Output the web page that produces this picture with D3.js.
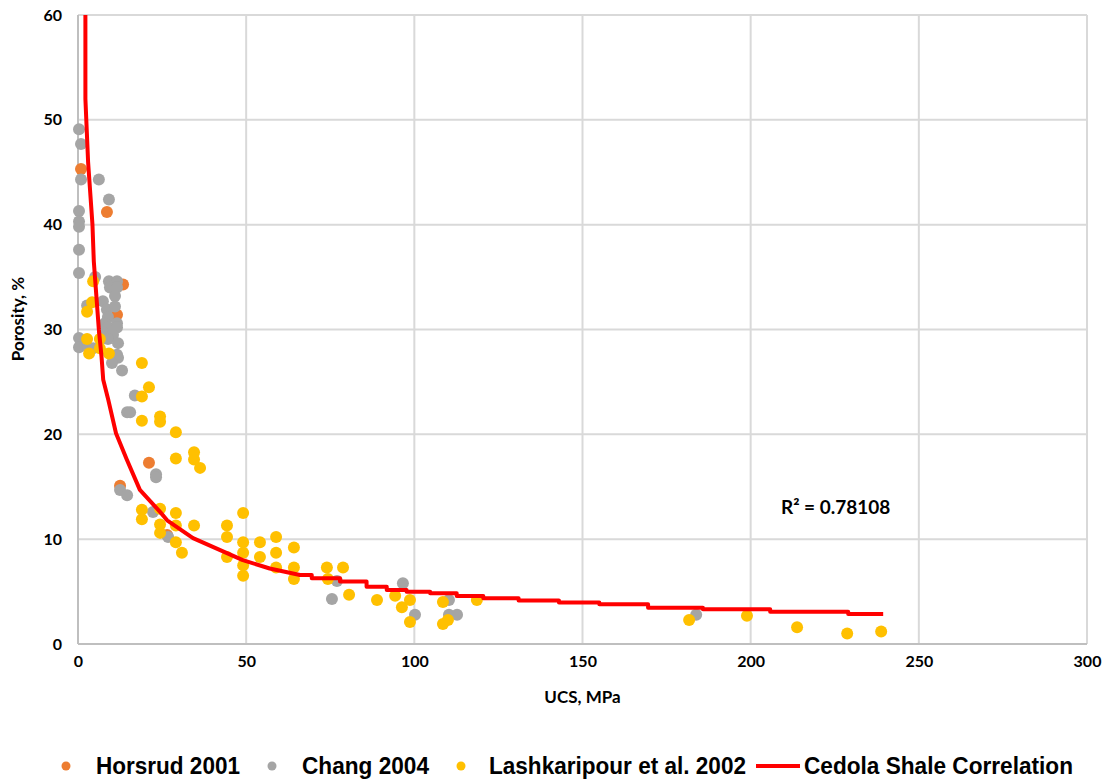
<!DOCTYPE html>
<html>
<head>
<meta charset="utf-8">
<script src="https://cdn.jsdelivr.net/npm/d3@7"></script>
<style>
  body { margin: 0; background: #fff; }
  svg text { font-family: Lato, "Open Sans", sans-serif; font-weight: bold; fill: #000; }
</style>
</head>
<body>
<div id="wrapper"></div>
<script>
// data: [UCS MPa, porosity %]
const horsrud = [
  [0.9, 45.3], [8.6, 41.2], [13.4, 34.3], [11.6, 31.4], [21.1, 17.3], [12.5, 15.1], [26.5, 10.4]
]
const chang = [
  [0.3, 49.1], [0.9, 47.7], [0.9, 44.3], [6.2, 44.3], [9.2, 42.4], [0.3, 41.3], [0.3, 40.3],
  [0.3, 39.8], [0.3, 37.6], [0.3, 35.4], [5.1, 35.0],
  [9.2, 34.6], [11.6, 34.6], [9.5, 34.0], [11.6, 34.0], [11.0, 33.2], [7.4, 32.7], [2.7, 32.3],
  [8.6, 31.9], [11.0, 32.2], [8.9, 31.2], [8.0, 30.6], [11.6, 30.6], [8.9, 30.2], [11.6, 30.2],
  [7.4, 29.7], [10.4, 29.5], [0.3, 29.2], [8.9, 29.1], [11.9, 28.7], [0.3, 28.3], [3.0, 28.3],
  [4.5, 28.2], [11.6, 27.6], [11.9, 27.3], [10.1, 26.8], [13.1, 26.1],
  [16.9, 23.7], [14.6, 22.1], [15.5, 22.1], [23.2, 16.2], [23.2, 15.9], [12.5, 14.7], [14.6, 14.2],
  [22.3, 12.6], [26.8, 10.2], [77.0, 6.0], [75.5, 4.3], [96.6, 5.8], [100.2, 2.8], [110.3, 4.2],
  [110.3, 2.8], [112.7, 2.8], [183.8, 2.8]
]
const lashkaripour = [
  [4.5, 34.6], [4.2, 32.6], [2.7, 31.7], [2.7, 29.1], [6.5, 29.1], [3.3, 27.7], [6.5, 28.2],
  [9.2, 27.7], [19.0, 26.8], [21.1, 24.5], [19.0, 23.6], [19.0, 21.3], [24.4, 21.7], [24.4, 21.2],
  [29.1, 20.2], [34.5, 18.3], [34.5, 17.6], [36.3, 16.8], [29.1, 17.7],
  [19.0, 12.8], [19.0, 11.9], [24.4, 12.9], [29.1, 12.5], [24.4, 11.4], [24.4, 10.6], [29.1, 11.3],
  [34.5, 11.3], [29.1, 9.7], [30.9, 8.7], [44.3, 11.3], [44.3, 10.2], [44.3, 8.3], [49.1, 12.5],
  [49.1, 9.7], [49.1, 8.7], [49.1, 7.5], [49.1, 6.5], [54.1, 9.7], [54.1, 8.3], [58.9, 10.2],
  [58.9, 8.7], [58.9, 7.3], [64.2, 9.2], [64.2, 7.3], [64.2, 6.2], [74.0, 7.3], [74.3, 6.2],
  [78.8, 7.3], [80.6, 4.7], [88.9, 4.2], [94.3, 4.6], [98.7, 4.2], [96.3, 3.5], [98.7, 2.1],
  [108.5, 4.0], [110.0, 2.3], [108.5, 1.9], [118.6, 4.2], [181.7, 2.3], [198.9, 2.7],
  [213.8, 1.6], [228.7, 1.0], [238.8, 1.2]
]
// correlation curve, traced point by point (tail is stepped in the original)
const cedola = [
  [2.2, 60], [2.2, 52], [3.0, 46], [4.3, 40], [4.7, 36.5], [6.2, 30], [7.0, 27.4], [7.5, 25.2],
  [9.0, 23.3], [11.3, 20.1], [14.5, 17.6], [18.4, 14.7], [24.4, 12.6], [26.5, 11.8], [34.2, 10.1],
  [49, 8.0], [57, 7.2], [66, 6.58], [69.5, 6.58], [69.5, 6.27], [77.9, 6.27], [77.9, 5.95],
  [85.8, 5.95], [85.8, 5.47], [91.8, 5.47], [91.8, 5.15], [97.7, 5.15], [97.7, 4.99],
  [104.7, 4.99], [104.7, 4.83], [112.6, 4.83], [112.6, 4.58], [120.5, 4.58], [120.5, 4.36],
  [131, 4.36], [131, 4.15], [143, 4.15], [143, 3.95], [155, 3.95], [155, 3.78], [169.5, 3.78],
  [169.5, 3.46], [185.8, 3.46], [185.8, 3.31], [205.8, 3.31], [205.8, 3.08], [229, 3.08],
  [229, 2.86], [239.4, 2.86]
]
const xTicks = [0, 50, 100, 150, 200, 250, 300]
const yTicks = [0, 10, 20, 30, 40, 50, 60]
const rSquared = "R² = 0.78108"
const legendItems = [
  {name: "Horsrud 2001", kind: "dot", color: "#ED7D31"},
  {name: "Chang 2004", kind: "dot", color: "#A5A5A5"},
  {name: "Lashkaripour et al. 2002", kind: "dot", color: "#FFC000"},
  {name: "Cedola Shale Correlation", kind: "line", color: "#FF0000"},
]

function drawChart() {
  const dimensions = {
    width: 1110,
    height: 780,
    margin: {top: 15, right: 23, bottom: 136, left: 78},
  }
  dimensions.boundedWidth = dimensions.width - dimensions.margin.left - dimensions.margin.right
  dimensions.boundedHeight = dimensions.height - dimensions.margin.top - dimensions.margin.bottom

  const wrapper = d3.select("#wrapper").append("svg")
      .attr("width", dimensions.width)
      .attr("height", dimensions.height)

  const bounds = wrapper.append("g")
      .attr("transform", `translate(${dimensions.margin.left},${dimensions.margin.top})`)

  const xScale = d3.scaleLinear([0, 300], [0, dimensions.boundedWidth])
  const yScale = d3.scaleLinear([0, 60], [dimensions.boundedHeight, 0])

  // gridlines
  bounds.append("g").selectAll("line")
    .data(yTicks.filter(d => d > 0))
    .join("line")
      .attr("x1", 0).attr("x2", dimensions.boundedWidth)
      .attr("y1", d => yScale(d)).attr("y2", d => yScale(d))
      .attr("stroke", "#d9d9d9").attr("stroke-width", 2)
  bounds.append("g").selectAll("line")
    .data(xTicks.filter(d => d > 0))
    .join("line")
      .attr("x1", d => xScale(d)).attr("x2", d => xScale(d))
      .attr("y1", 0).attr("y2", dimensions.boundedHeight)
      .attr("stroke", "#d9d9d9").attr("stroke-width", 2)

  // axis lines
  bounds.append("line")
      .attr("x1", 0).attr("x2", 0).attr("y1", 0).attr("y2", dimensions.boundedHeight)
      .attr("stroke", "#bfbfbf").attr("stroke-width", 2)
  bounds.append("line")
      .attr("x1", 0).attr("x2", dimensions.boundedWidth)
      .attr("y1", dimensions.boundedHeight).attr("y2", dimensions.boundedHeight)
      .attr("stroke", "#bfbfbf").attr("stroke-width", 2)

  // tick labels
  const xAxis = d3.axisBottom(xScale).tickValues(xTicks).tickSize(0).tickPadding(12)
  const xAxisG = bounds.append("g")
      .attr("transform", `translate(0,${dimensions.boundedHeight})`)
      .call(xAxis)
  const yAxis = d3.axisLeft(yScale).tickValues(yTicks).tickSize(0).tickPadding(16)
  const yAxisG = bounds.append("g").call(yAxis)
  ;[xAxisG, yAxisG].forEach(g => {
    g.select(".domain").remove()
    g.selectAll("text")
      .style("font-family", "Lato, sans-serif")
      .style("font-weight", "bold")
      .style("font-size", "16px")
      .attr("fill", "#000")
  })

  // points: orange, then gray, then yellow on top
  const series = [
    {data: horsrud, color: "#ED7D31"},
    {data: chang, color: "#A5A5A5"},
    {data: lashkaripour, color: "#FFC000"},
  ]
  series.forEach(s => {
    bounds.append("g").selectAll("circle")
      .data(s.data)
      .join("circle")
        .attr("cx", d => xScale(d[0]))
        .attr("cy", d => yScale(d[1]))
        .attr("r", 6)
        .attr("fill", s.color)
  })

  const line = d3.line()
      .x(d => xScale(d[0]))
      .y(d => yScale(d[1]))
  bounds.append("path")
      .datum(cedola)
      .attr("d", line)
      .attr("fill", "none")
      .attr("stroke", "#FF0000")
      .attr("stroke-width", 4)
      .attr("stroke-linejoin", "round")

  // R squared
  bounds.append("text")
      .attr("x", xScale(209))
      .attr("y", yScale(12.4))
      .style("font-size", "19px")
      .text(rSquared)

  // axis titles
  wrapper.append("text")
      .attr("x", dimensions.margin.left + dimensions.boundedWidth / 2)
      .attr("y", 703)
      .attr("text-anchor", "middle")
      .style("font-size", "17px")
      .text("UCS,  MPa")
  wrapper.append("text")
      .attr("transform", `translate(24,${dimensions.margin.top + yScale(31)}) rotate(-90)`)
      .attr("text-anchor", "middle")
      .style("font-size", "17px")
      .text("Porosity, %")

  // legend (narrow bold font in the original, so text is squeezed to its width)
  const legendX = [66, 272, 461, 756]
  const legendTextX = [30, 30, 28, 48]
  const legendTextW = [144, 127, 257, 269]
  const legend = wrapper.append("g")
      .attr("transform", "translate(0,766)")
  const items = legend.selectAll("g")
    .data(legendItems)
    .join("g")
      .attr("transform", (d, i) => `translate(${legendX[i]},0)`)
  items.filter(d => d.kind == "dot").append("circle")
      .attr("r", 4.5)
      .attr("fill", d => d.color)
  items.filter(d => d.kind == "line").append("line")
      .attr("x1", 0).attr("x2", 44)
      .attr("stroke", d => d.color).attr("stroke-width", 4)
  items.append("text")
      .attr("x", (d, i) => legendTextX[i])
      .attr("dy", "0.36em")
      .attr("textLength", (d, i) => legendTextW[i])
      .attr("lengthAdjust", "spacingAndGlyphs")
      .style("font-family", "'Liberation Sans', Arial, sans-serif")
      .style("font-size", "23px")
      .text(d => d.name)
}

drawChart()
</script>
</body>
</html>
